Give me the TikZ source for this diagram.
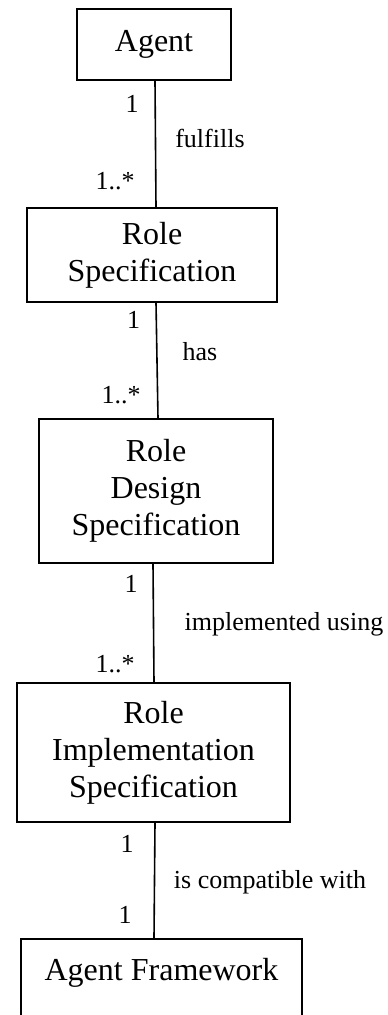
\documentclass[tikz,border=0pt]{standalone}
\usepackage{fontspec}
\setmainfont{Liberation Serif}
\begin{document}
\begin{tikzpicture}[x=1pt,y=-1pt,
  box/.style={draw,line width=1.6pt,inner sep=0pt,align=center,font=\fontsize{32}{37}\selectfont},
  lbl/.style={anchor=base,inner sep=0pt,font=\fontsize{26}{30}\selectfont},
  conn/.style={line width=1.6pt}]
\useasboundingbox (0,0) rectangle (388,1015);
\clip (0,0) rectangle (388,1015);
\node[box,minimum width=154pt,minimum height=71pt] (agent) at (154,44.5) {Agent};
\node[box,minimum width=250pt,minimum height=94pt] (spec) at (152,255) {Role\\Specification};
\node[box,minimum width=234pt,minimum height=144pt] (design) at (156,491) {Role\\Design\\Specification};
\node[box,minimum width=273pt,minimum height=139pt] (impl) at (153.5,752.5) {Role\\Implementation\\Specification};
\node[box,anchor=north,minimum width=281pt,minimum height=102pt,text height=22pt,text depth=40pt] (fw) at (161.5,938) {Agent Framework};
\draw[conn] ([xshift=1pt]agent.south) -- ([xshift=4pt]spec.north);
\draw[conn] ([xshift=4pt]spec.south) -- ([xshift=2pt]design.north);
\draw[conn] ([xshift=-3pt]design.south) -- ([xshift=0.5pt]impl.north);
\draw[conn] ([xshift=1.5pt]impl.south) -- ([xshift=-7.5pt]fw.north);
\node[lbl] (m1a) at (132,112) {1};
\node[lbl] (r1) at (210,147) {fulfills};
\node[lbl] (m1b) at (115,189) {1..*};
\node[lbl] (m2a) at (133.5,328) {1};
\node[lbl] (r2) at (200,360) {has};
\node[lbl] (m2b) at (121,403) {1..*};
\node[lbl] (m3a) at (131,592) {1};
\node[lbl] (r3) at (284,630) {implemented using};
\node[lbl] (m3b) at (115,672) {1..*};
\node[lbl] (m4a) at (127,852) {1};
\node[lbl] (r4) at (270,888) {is compatible with};
\node[lbl] (m4b) at (125,923) {1};
\end{tikzpicture}
\end{document}
